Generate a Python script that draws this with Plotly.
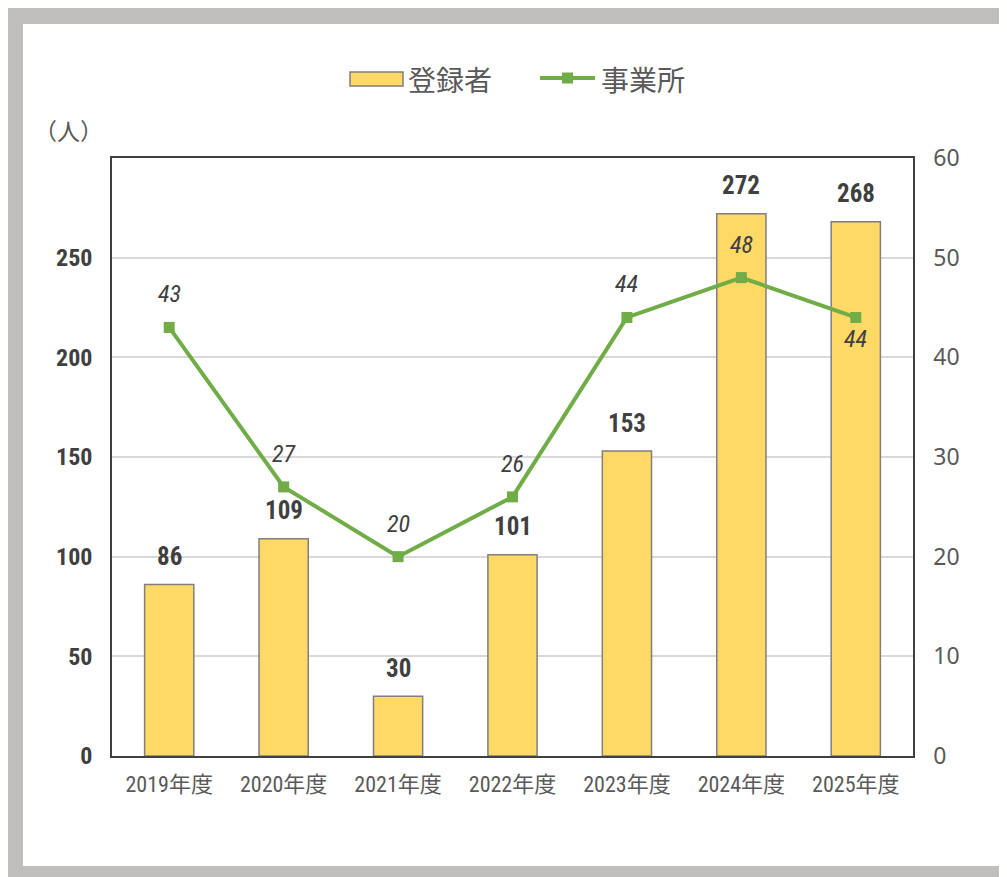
import plotly.graph_objects as go

years = ["2019年度", "2020年度", "2021年度", "2022年度", "2023年度", "2024年度", "2025年度"]
registered = [86, 109, 30, 101, 153, 272, 268]
offices = [43, 27, 20, 26, 44, 48, 44]
office_label_side = ["above", "above", "above", "above", "above", "above", "below"]
left_ticks = [0, 50, 100, 150, 200, 250]
right_ticks = [0, 10, 20, 30, 40, 50, 60]
series_names = ["登録者", "事業所"]
unit_label = "（人）"

# page body margin offset (8px), figure sized so reference pixel = figure pixel + 8
OFF = 8
W, H = 1007 - OFF, 877 - OFF
L, R, T, B = 112, 913, 158, 756  # plot area in reference pixels

def px(x):
    return (x - L) / (R - L)

def py(y):
    return (B - y) / (B - T)

NARROW = "Liberation Sans Narrow, Roboto Condensed, Arial Narrow, Noto Sans CJK JP, sans-serif"
CJK = "Noto Sans CJK JP, sans-serif"
BAR_FILL, BAR_EDGE, GREEN = "#FFD966", "#7F7F7F", "#70AD47"

fig = go.Figure()

fig.add_trace(go.Bar(
    x=years, y=registered, name=series_names[0],
    marker=dict(color=BAR_FILL, line=dict(color=BAR_EDGE, width=1.5)),
    yaxis="y",
))
fig.add_trace(go.Scatter(
    x=years, y=offices, name=series_names[1], mode="lines+markers",
    line=dict(color=GREEN, width=4),
    marker=dict(symbol="square", size=11, color=GREEN),
    yaxis="y2",
))

annotations = []
for xv, v in zip(years, registered):
    annotations.append(dict(
        x=xv, y=v, xref="x", yref="y", text=str(v), showarrow=False,
        yanchor="middle", yshift=28,
        font=dict(family=NARROW, size=25, color="#404040", weight="bold"),
    ))
for xv, v, side in zip(years, offices, office_label_side):
    annotations.append(dict(
        x=xv, y=v, xref="x", yref="y2", text="<i>%d</i>" % v, showarrow=False,
        yanchor="middle", yshift=33 if side == "above" else -22,
        font=dict(family=NARROW, size=24, color="#404040"),
    ))
annotations.append(dict(
    x=px(68), y=py(130), xref="paper", yref="paper", text=unit_label, showarrow=False,
    xanchor="center", yanchor="middle",
    font=dict(family=CJK, size=23, color="#595959"),
))
# custom legend text
for name, xl in zip(series_names, [406, 599]):
    annotations.append(dict(
        x=px(xl), y=py(79), xref="paper", yref="paper", text=name, showarrow=False,
        xanchor="left", yanchor="middle",
        font=dict(family=CJK, size=28, color="#595959"),
    ))

shapes = [
    dict(type="rect", xref="paper", yref="paper", layer="below",
         x0=px(7), x1=px(1010), y0=py(880), y1=py(5),
         fillcolor="#BFBEBC", line=dict(width=0)),
    dict(type="rect", xref="paper", yref="paper", layer="below",
         x0=px(23), x1=px(1006), y0=py(866), y1=py(24),
         fillcolor="white", line=dict(width=0)),
    # legend swatches
    dict(type="rect", xref="paper", yref="paper",
         x0=px(350), x1=px(403), y0=py(86), y1=py(72),
         fillcolor=BAR_FILL, line=dict(color=BAR_EDGE, width=1.5)),
    dict(type="line", xref="paper", yref="paper",
         x0=px(540), x1=px(595), y0=py(78), y1=py(78),
         line=dict(color=GREEN, width=4)),
    dict(type="rect", xref="paper", yref="paper",
         x0=px(562), x1=px(573), y0=py(83.5), y1=py(72.5),
         fillcolor=GREEN, line=dict(width=0)),
]

fig.update_layout(
    width=W, height=H,
    margin=dict(l=L - OFF, r=W - (R - OFF), t=T - OFF, b=H - (B - OFF), pad=0),
    paper_bgcolor="white",
    plot_bgcolor="rgba(0,0,0,0)",
    bargap=0.57,
    showlegend=False,
    xaxis=dict(
        showline=True, linecolor="#404040", linewidth=1.5, mirror=True,
        ticks="", tickfont=dict(family=NARROW, size=22, color="#595959"),
        showgrid=False, ticklabelstandoff=8,
    ),
    yaxis=dict(
        range=[0, 300], tickvals=left_ticks,
        showline=True, linecolor="#404040", linewidth=1.5,
        showgrid=True, gridcolor="#D9D9D9", gridwidth=1.5,
        tickfont=dict(family=NARROW, size=24, color="#404040", weight="bold"),
        ticks="", ticklabelstandoff=13, zeroline=False,
    ),
    yaxis2=dict(
        range=[0, 60], tickvals=right_ticks, overlaying="y", side="right",
        showline=True, linecolor="#404040", linewidth=1.5, showgrid=False,
        tickfont=dict(family="Noto Sans, sans-serif", size=23, color="#595959"),
        ticks="", ticklabelstandoff=14, zeroline=False,
    ),
    annotations=annotations,
    shapes=shapes,
)

fig.write_html("out.html")
